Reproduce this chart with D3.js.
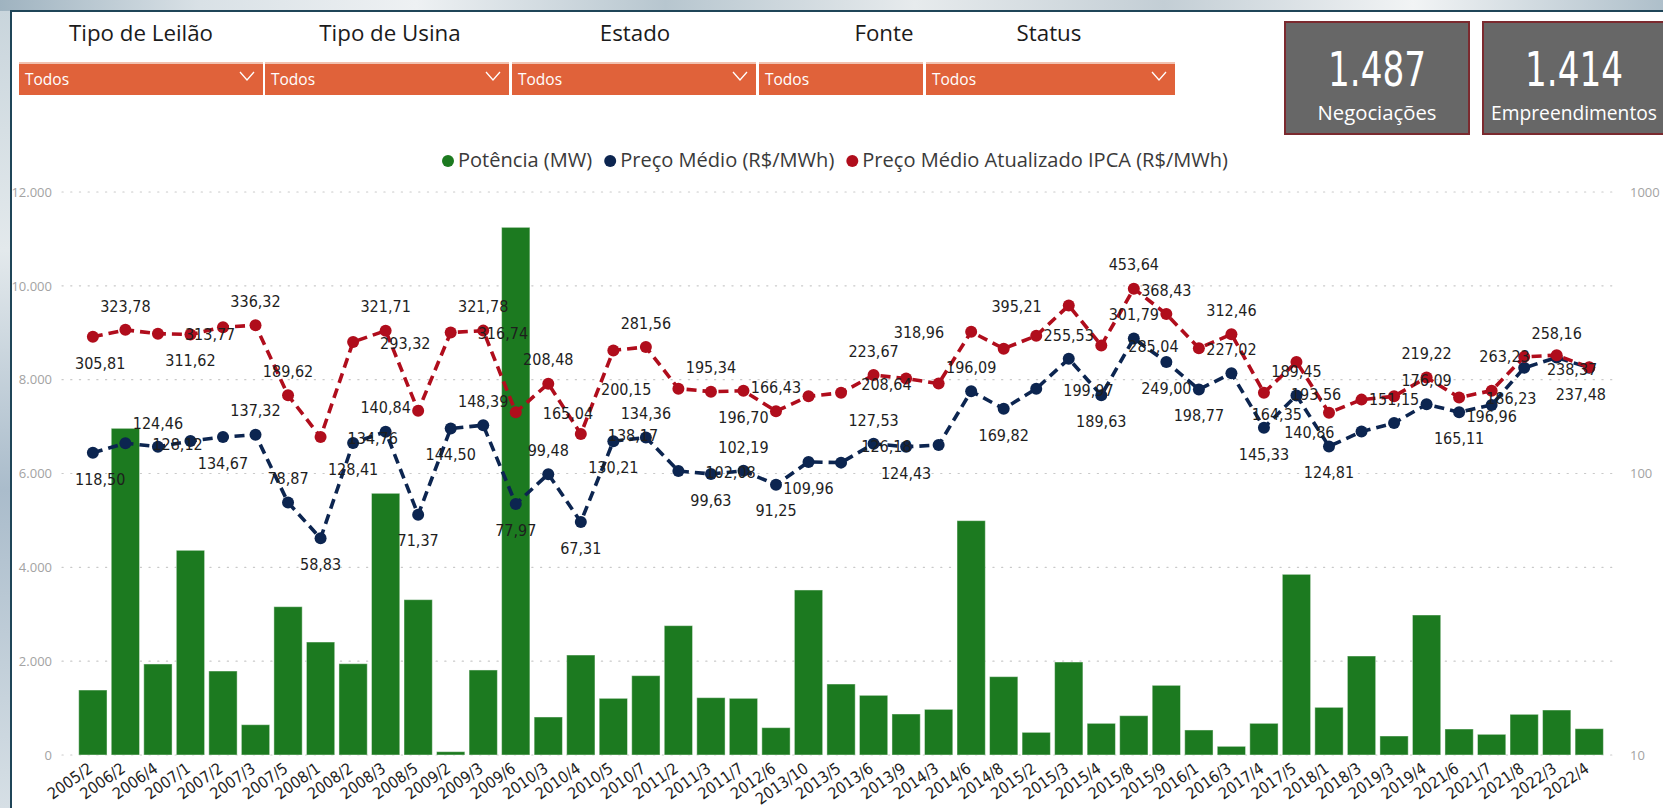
<!DOCTYPE html>
<html><head><meta charset="utf-8">
<script src="https://cdn.jsdelivr.net/npm/d3@7"></script>
<style>
html,body{margin:0;padding:0;background:#fff;overflow:hidden}
svg{display:block}
</style></head><body>
<svg id="chart" width="1663" height="808"></svg>
<script>
// ---------------- DATA ----------------
const categories = ["2005/2","2006/2","2006/4","2007/1","2007/2","2007/3","2007/5","2008/1","2008/2","2008/3","2008/5","2009/2","2009/3","2009/6","2010/3","2010/4","2010/5","2010/7","2011/2","2011/3","2011/7","2012/6","2013/10","2013/5","2013/6","2013/9","2014/3","2014/6","2014/8","2015/2","2015/3","2015/4","2015/8","2015/9","2016/1","2016/3","2017/4","2017/5","2018/1","2018/3","2019/3","2019/4","2021/6","2021/7","2021/8","2022/3","2022/4"];
const potenciaMW = [1385,6963,1940,4363,1790,646,3161,2408,1946,5578,3311,71,1812,11247,810,2131,1208,1691,2757,1222,1208,583,3517,1513,1272,874,973,4995,1670,483,1982,675,838,1485,533,185,675,3851,1016,2110,405,2984,554,441,867,959,561];
const precoMedio = [118.50,128.12,124.46,130.50,134.67,137.32,78.87,58.83,128.41,140.84,71.37,144.50,148.39,77.97,99.48,67.31,130.21,134.36,102.08,99.63,102.19,91.25,109.96,109.30,127.53,124.43,126.18,196.09,169.82,199.97,255.53,189.63,301.79,249.00,198.77,227.02,145.33,189.45,124.81,140.86,151.15,176.09,165.11,175.20,237.30,258.16,237.48];
const precoIPCA = [305.81,323.78,313.77,311.62,331.00,336.32,189.62,134.76,293.32,321.71,167.00,316.74,321.78,165.04,208.48,138.17,273.70,281.56,200.15,195.34,196.70,166.43,188.00,193.40,223.67,217.60,208.64,318.96,277.50,308.60,395.21,285.04,453.64,368.43,278.70,312.46,193.56,249.00,164.35,183.00,188.00,219.22,186.23,196.96,259.60,263.23,238.37];
// label placement (a=above, b=below, r=right, l=left, L=tight left, n=hidden)
const placeMedio = "b r a n b a a b b a b b a b a b b a r b a b b n a b l a b r a b a b b a b a b l a a b n n a b".split(" ");
const placeIPCA  = "b a r b n a a r r a n r a r a r n a l a b a n n a n l l n n l r a a n a r n l n n a r b n l L".split(" ");
const leftTicks = [0,2000,4000,6000,8000,10000,12000];
const rightTicks = [10,100,1000];
const seriesNames = ["Potência (MW)","Preço Médio (R$/MWh)","Preço Médio Atualizado IPCA (R$/MWh)"];
const slicerTitles = ["Tipo de Leilão","Tipo de Usina","Estado","Fonte","Status"];
const slicerValues = ["Todos","Todos","Todos","Todos","Todos"];
const kpiValues = ["1.487","1.414"];
const kpiLabels = ["Negociações","Empreendimentos"];

// ---------------- STYLE ----------------
const W = 1663, H = 808;
const C_GREEN = "#1c7a20", C_NAVY = "#0c2550", C_RED = "#b00d1c";
const UI_FONT = "'Segoe UI','Open Sans','Noto Sans',sans-serif";
const DIN_FONT = "'DejaVu Sans Condensed','DejaVu Sans',sans-serif";
const loc = d3.formatLocale({decimal:",", thousands:".", grouping:[3], currency:["R$",""]});
const fmtThousands = loc.format(",d");
const fmtPrice = loc.format(",.2f");

const svg = d3.select("#chart");
const defs = svg.append("defs");
const gTop = defs.append("linearGradient").attr("id","gTop");
[["0","#9fb3c0"],["0.12","#d9e1e6"],["0.25","#eef1f3"],["0.4","#b7c6cf"],["0.55","#e7ebed"],["0.7","#c3ced5"],["0.85","#f2f4f5"],["1","#aebfca"]]
  .forEach(s=>gTop.append("stop").attr("offset",s[0]).attr("stop-color",s[1]));
const gLeft = defs.append("linearGradient").attr("id","gLeft").attr("x1",0).attr("x2",0).attr("y1",0).attr("y2",1);
[["0","#c9d5dc"],["0.3","#e3e9ec"],["0.6","#aabccb"],["1","#d6dfe5"]]
  .forEach(s=>gLeft.append("stop").attr("offset",s[0]).attr("stop-color",s[1]));

svg.append("rect").attr("width",W).attr("height",11).attr("fill","url(#gTop)");
svg.append("rect").attr("y",11).attr("width",11).attr("height",H-11).attr("fill","url(#gLeft)");
svg.append("rect").attr("x",11).attr("y",11).attr("width",W-11).attr("height",H-11).attr("fill","#fff");
svg.append("path").attr("d",`M11,${H}V11H${W}`).attr("fill","none").attr("stroke","#1f4558").attr("stroke-width",2);

function fitFont(sel, target, base){
  sel.style("font-size", base+"px");
  const w = sel.node().getComputedTextLength();
  const s = base*target/w;
  sel.style("font-size", s.toFixed(2)+"px");
  return s;
}

// ---------------- SLICERS ----------------
const slicerBoxes = [[19,263],[265,509],[512,756],[759,923],[926,1175]];
const titleCenters = [141,390,635,884,1049];
const gS = svg.append("g");
const titles = slicerTitles.map((t,i)=>gS.append("text").attr("x",titleCenters[i]).attr("y",41).attr("text-anchor","middle")
    .style("font-family",UI_FONT).attr("fill","#1b1b1b").text(t));
const tSize = fitFont(titles[0], 144, 19);
titles.forEach(t=>t.style("font-size",tSize.toFixed(2)+"px"));
slicerBoxes.forEach((b,i)=>{
  gS.append("rect").attr("x",b[0]).attr("y",63).attr("width",b[1]-b[0]).attr("height",32).attr("fill","#e0623a");
  gS.append("rect").attr("x",b[0]).attr("y",62).attr("width",b[1]-b[0]).attr("height",2).attr("fill","#f1c2b1");
  gS.append("text").attr("x",b[0]+6).attr("y",85).style("font-family",UI_FONT).style("font-size","15.5px")
    .attr("fill","#fff").text(slicerValues[i]);
  if (i!==3){
    const cx=b[1]-16, cy=76;
    gS.append("path").attr("d",`M${cx-7},${cy-4}L${cx},${cy+4}L${cx+7},${cy-4}`).attr("fill","none")
      .attr("stroke","#fff").attr("stroke-width",1.3);
  }
});

// ---------------- KPI CARDS ----------------
const cards = [[1285,1469],[1483,1672]];
cards.forEach((c,i)=>{
  svg.append("rect").attr("x",c[0]).attr("y",22).attr("width",c[1]-c[0]).attr("height",112)
    .attr("fill","#676767").attr("stroke","#7b2a2f").attr("stroke-width",2);
  const cx = i===0 ? 1377 : 1574;
  const g = svg.append("g");
  const v = g.append("text").attr("x",0).attr("y",0).attr("text-anchor","middle")
    .style("font-family",DIN_FONT).style("font-size","48px").style("font-weight","normal").attr("fill","#fff").text(kpiValues[i]);
  const sx = 98 / v.node().getComputedTextLength();
  g.attr("transform",`translate(${cx},86) scale(${sx.toFixed(3)},1)`);
  const l = svg.append("text").attr("x",cx).attr("y",120).attr("text-anchor","middle")
    .style("font-family",UI_FONT).attr("fill","#fff").text(kpiLabels[i]);
  fitFont(l, i===0?119:166, 18);
});

// ---------------- SCALES ----------------
const Y0 = 755, Y1 = 192;
const x = d3.scaleBand().domain(categories).range([76.6,1605.5]).paddingInner(0.13).paddingOuter(0.065);
const yL = d3.scaleLinear().domain([0,12000]).range([Y0,Y1]);
const yR = d3.scaleLog().domain([10,1000]).range([Y0,Y1]);
const cx = c => x(c) + x.bandwidth()/2;

// gridlines
svg.append("g").selectAll("line").data(leftTicks).join("line")
  .attr("x1",62).attr("x2",1617).attr("y1",d=>yL(d)).attr("y2",d=>yL(d))
  .attr("stroke","#c9c9c9").attr("stroke-width",1.2).attr("stroke-dasharray","1.2,7.5").attr("stroke-linecap","round");

// left axis
const axL = svg.append("g").attr("transform","translate(52,0)")
  .call(d3.axisLeft(yL).tickValues(leftTicks).tickFormat(fmtThousands).tickSize(0).tickPadding(0));
axL.select(".domain").remove();
axL.selectAll("text").style("font-family",UI_FONT).style("font-size","13px").attr("fill","#a3a3a3");

// right axis
const axR = svg.append("g").attr("transform","translate(1630,0)")
  .call(d3.axisRight(yR).tickValues(rightTicks).tickFormat(d3.format("d")).tickSize(0).tickPadding(0));
axR.select(".domain").remove();
axR.selectAll("text").style("font-family",UI_FONT).style("font-size","13px").attr("fill","#a3a3a3");

// bars
svg.append("g").selectAll("rect").data(categories).join("rect")
  .attr("x",d=>x(d)).attr("width",x.bandwidth())
  .attr("y",(d,i)=>yL(potenciaMW[i])).attr("height",(d,i)=>Y0-yL(potenciaMW[i]))
  .attr("fill",C_GREEN).attr("stroke","rgba(255,255,255,0.45)").attr("stroke-width",1);

// x axis
const axB = svg.append("g").attr("transform",`translate(0,${Y0})`)
  .call(d3.axisBottom(x).tickSize(0).tickPadding(0));
axB.select(".domain").remove();
axB.selectAll("text")
  .attr("y",0).attr("dy",0)
  .attr("transform","translate(1,16) rotate(-35)")
  .attr("text-anchor","end")
  .style("font-family",DIN_FONT).style("font-size","16px").attr("fill","#222");

// lines
function drawSeries(vals, color){
  const line = d3.line().x((d,i)=>cx(categories[i])).y(d=>yR(d));
  svg.append("path").datum(vals).attr("d",line).attr("fill","none").attr("stroke",color)
    .attr("stroke-width",3.6).attr("stroke-dasharray","10,6");
  svg.append("g").selectAll("circle").data(vals).join("circle")
    .attr("cx",(d,i)=>cx(categories[i])).attr("cy",d=>yR(d)).attr("r",6).attr("fill",color);
}
drawSeries(precoMedio, C_NAVY);
drawSeries(precoIPCA, C_RED);

// data labels
const gLab = svg.append("g");
function drawLabels(vals, place){
  vals.forEach((v,i)=>{
    const p = place[i]; if (p==="n") return;
    const px = cx(categories[i]), py = yR(v);
    let lx=px, ly=py, anchor="middle";
    if (p==="a"){ ly=py-24; }
    else if (p==="b"){ ly=py+26; }
    else if (p==="r"){ lx=px+27; ly=py+1; anchor="start"; }
    else if (p==="l"){ lx=px-27; ly=py+1; anchor="end"; }
    else if (p==="L"){ lx=px+8; ly=py+2; anchor="end"; }
    const t = gLab.append("text").attr("x",lx).attr("y",ly).attr("dy","0.36em").attr("text-anchor",anchor)
      .style("font-family",DIN_FONT).style("font-size","16px").attr("fill","#1e1e1e").text(fmtPrice(v));
    const bb = t.node().getBBox();
    if (bb.x < 75) t.attr("x", lx + (75-bb.x));
    if (bb.x+bb.width > 1606) t.attr("x", lx - (bb.x+bb.width-1606));
  });
}
drawLabels(precoMedio, placeMedio);
drawLabels(precoIPCA, placeIPCA);

// legend
const legColors = [C_GREEN, C_NAVY, C_RED];
const gLeg = svg.append("g");
const legTexts = seriesNames.map((n,i)=>gLeg.append("text").attr("y",167).style("font-family",UI_FONT).attr("fill","#3a3a3a").text(n));
const lSize = fitFont(legTexts[2], 366, 18);
legTexts.forEach(t=>t.style("font-size",lSize.toFixed(2)+"px"));
const widths = legTexts.map(t=>t.node().getComputedTextLength());
const gap = 18;
const total = d3.sum(widths.map(w=>10+w)) + gap*2 + 6;
let xpos = 835 - total/2 + 6;
legTexts.forEach((t,i)=>{
  gLeg.append("circle").attr("cx",xpos).attr("cy",161).attr("r",6).attr("fill",legColors[i]);
  t.attr("x",xpos+10);
  xpos += 10 + widths[i] + gap;
});
</script>
</body></html>
